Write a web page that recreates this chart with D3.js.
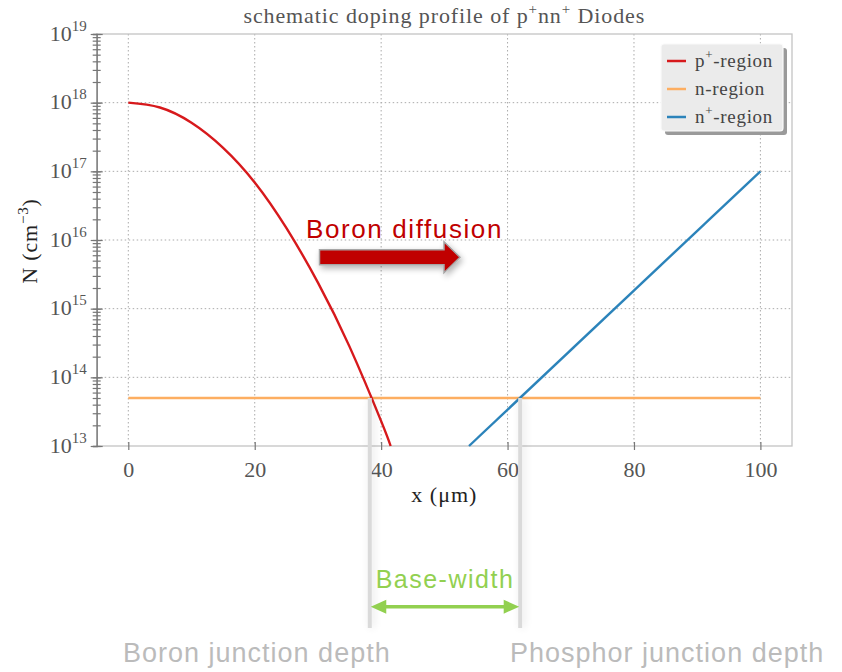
<!DOCTYPE html>
<html>
<head>
<meta charset="utf-8">
<script src="https://cdn.jsdelivr.net/npm/d3@7"></script>
<style>
  body { margin: 0; background: #fff; }
  svg { display: block; }
</style>
</head>
<body>
<svg id="chart" width="842" height="672"></svg>
<script>
// ----- data -----
var pRegionX = [0, 5, 10, 15, 20, 25, 30, 35, 40, 41.5];
var pRegionN = [1e18, 8.5e17, 5.1e17, 2.2e17, 6.9e16, 1.5e16, 2.4e15, 2.8e14, 2.3e13, 1e13];
var nRegionX = [0, 100];
var nRegionN = [5e13, 5e13];
var nPlusX = [53.9, 100];
var nPlusN = [1e13, 1e17];
var xTicks = [0, 20, 40, 60, 80, 100];
var yDecades = [13, 14, 15, 16, 17, 18, 19];
var legendNames = [["p", "+", "-region"], ["n", "", "-region"], ["n", "+", "-region"]];
var seriesColors = ["#d7191c", "#fdae61", "#2b83ba"];
var junctionX = [38.2, 62.0];

var serif = '"Liberation Serif", "DejaVu Serif", serif';
var sans = '"Liberation Sans", Arial, sans-serif';

var svg = d3.select('#chart');
var margin = {left: 96.7, right: 50, top: 34, bottom: 226};
var width = 842 - margin.left - margin.right;
var height = 672 - margin.top - margin.bottom;

var defs = svg.append('defs');
var shadow = defs.append('filter').attr('id', 'soft').attr('x', '-50%').attr('y', '-50%')
  .attr('width', '200%').attr('height', '200%');
shadow.append('feGaussianBlur').attr('in', 'SourceAlpha').attr('stdDeviation', 3).attr('result', 'b');
shadow.append('feOffset').attr('in', 'b').attr('dx', 2).attr('dy', 3).attr('result', 'o');
shadow.append('feComponentTransfer').attr('in', 'o').attr('result', 'o2')
  .append('feFuncA').attr('type', 'linear').attr('slope', 0.3);
var m = shadow.append('feMerge');
m.append('feMergeNode').attr('in', 'o2');
m.append('feMergeNode').attr('in', 'SourceGraphic');

var glow = defs.append('filter').attr('id', 'glow').attr('x', '-400%').attr('y', '-10%')
  .attr('width', '900%').attr('height', '120%');
glow.append('feGaussianBlur').attr('in', 'SourceAlpha').attr('stdDeviation', 4).attr('result', 'b');
glow.append('feOffset').attr('in', 'b').attr('dx', 2).attr('dy', 0).attr('result', 'bo');
glow.append('feComponentTransfer').attr('in', 'bo').attr('result', 'bs')
  .append('feFuncA').attr('type', 'linear').attr('slope', 0.12);
glow.append('feFlood').attr('flood-color', '#000');
glow.append('feComposite').attr('in2', 'bs').attr('operator', 'in').attr('result', 'g');
var gm = glow.append('feMerge');
gm.append('feMergeNode').attr('in', 'g');
gm.append('feMergeNode').attr('in', 'SourceGraphic');

var x = d3.scaleLinear().domain([-5, 105]).range([0, width]);
var y = d3.scaleLog().domain([1e13, 1e19]).range([height, 0]);

var g = svg.append('g').attr('transform', 'translate(' + margin.left + ',' + margin.top + ')');

// grid
g.selectAll('line.gx').data(xTicks).enter().append('line')
  .attr('class', 'gx')
  .attr('x1', function(d) { return x(d); }).attr('x2', function(d) { return x(d); })
  .attr('y1', 0).attr('y2', height)
  .attr('stroke', '#aaa').attr('stroke-width', 1).attr('stroke-dasharray', '1.5,2.5');
g.selectAll('line.gy').data(yDecades.slice(1, -1)).enter().append('line')
  .attr('class', 'gy')
  .attr('x1', 0).attr('x2', width)
  .attr('y1', function(d) { return y(Math.pow(10, d)); }).attr('y2', function(d) { return y(Math.pow(10, d)); })
  .attr('stroke', '#aaa').attr('stroke-width', 1).attr('stroke-dasharray', '1.5,2.5');

// frame
g.append('rect').attr('x', 0).attr('y', 0).attr('width', width).attr('height', height)
  .attr('fill', 'none').attr('stroke', '#c4c4c4').attr('stroke-width', 1.3);

// y axis with minor ticks
var yMinor = d3.axisLeft(y).tickValues(y.ticks()).tickFormat('').tickSize(4);
var yAx = g.append('g').call(yMinor);
yAx.select('.domain').attr('stroke', '#777').attr('stroke-width', 1.3);
yAx.selectAll('.tick line').attr('x1', 4).attr('x2', -4).attr('stroke', '#777').attr('stroke-width', 1.2);

var yMajor = d3.axisLeft(y).tickValues(yDecades.map(function(d) { return Math.pow(10, d); }))
  .tickFormat('').tickSize(6);
var yAx2 = g.append('g').call(yMajor);
yAx2.select('.domain').remove();
yAx2.selectAll('.tick line').attr('x1', 6).attr('x2', -6).attr('stroke', '#777').attr('stroke-width', 1.2);
yAx2.selectAll('.tick').each(function(d) {
  var t = d3.select(this).append('text')
    .attr('x', -10).attr('y', 6)
    .attr('text-anchor', 'end')
    .attr('fill', '#555')
    .style('font-family', serif)
    .style('font-size', '22px');
  t.append('tspan').text('10');
  t.append('tspan').attr('dy', -10).style('font-size', '15px').text(Math.round(Math.log10(d)));
});

// x axis
var xAx = g.append('g').attr('transform', 'translate(0,' + height + ')')
  .call(d3.axisBottom(x).tickValues(xTicks).tickSize(4).tickFormat(d3.format('d')));
xAx.select('.domain').remove();
xAx.selectAll('.tick line').attr('y1', -4).attr('y2', 4).attr('stroke', '#777').attr('stroke-width', 1.2);
xAx.selectAll('.tick text').attr('y', 11).attr('dy', '0.9em').attr('fill', '#555')
  .style('font-family', serif).style('font-size', '22px');

// series
var line = d3.line()
  .x(function(d) { return x(d[0]); })
  .y(function(d) { return y(d[1]); });
var pts = [d3.zip(pRegionX, pRegionN), d3.zip(nRegionX, nRegionN), d3.zip(nPlusX, nPlusN)];
g.append('path').datum(pts[1]).attr('d', line)
  .attr('fill', 'none').attr('stroke', seriesColors[1]).attr('stroke-width', 2.6);
g.append('path').datum(pts[0]).attr('d', line.curve(d3.curveNatural))
  .attr('fill', 'none').attr('stroke', seriesColors[0]).attr('stroke-width', 2.4);
g.append('path').datum(pts[2]).attr('d', line.curve(d3.curveLinear))
  .attr('fill', 'none').attr('stroke', seriesColors[2]).attr('stroke-width', 2.4);

// title and axis labels
svg.append('text').attr('x', margin.left + width / 2).attr('y', 23)
  .attr('text-anchor', 'middle').attr('fill', '#555')
  .style('font-family', serif).style('font-size', '22px').style('letter-spacing', '0.9px')
  .call(function(t) {
    t.append('tspan').text('schematic doping profile of p');
    t.append('tspan').attr('dy', -9).style('font-size', '15px').text('+');
    t.append('tspan').attr('dy', 9).text('nn');
    t.append('tspan').attr('dy', -9).style('font-size', '15px').text('+');
    t.append('tspan').attr('dy', 9).text(' Diodes');
  });

svg.append('text').attr('x', margin.left + x(50)).attr('y', 502)
  .attr('text-anchor', 'middle').attr('fill', '#222')
  .style('font-family', serif).style('font-size', '22px').style('letter-spacing', '1px')
  .text('x (\u03bcm)');

svg.append('text').attr('transform', 'translate(37,241) rotate(-90)')
  .attr('text-anchor', 'middle').attr('fill', '#222')
  .style('font-family', serif).style('font-size', '22px').style('letter-spacing', '0.8px')
  .call(function(t) {
    t.append('tspan').text('N (cm');
    t.append('tspan').attr('dy', -9).style('font-size', '15px').text('\u22123');
    t.append('tspan').attr('dy', 9).text(')');
  });

// legend
var lg = svg.append('g').attr('transform', 'translate(661,44)');
lg.append('rect').attr('x', 4).attr('y', 4).attr('width', 122).attr('height', 87).attr('rx', 3)
  .attr('fill', '#9a9a9a');
lg.append('rect').attr('x', 0).attr('y', 0).attr('width', 122).attr('height', 87).attr('rx', 3)
  .attr('fill', '#ebebeb').attr('stroke', '#fafafa').attr('stroke-width', 1.2);
var rows = lg.selectAll('g.row').data(legendNames).enter().append('g')
  .attr('class', 'row')
  .attr('transform', function(d, i) { return 'translate(0,' + (17 + i * 28) + ')'; });
rows.append('line').attr('x1', 6).attr('x2', 25).attr('y1', 0).attr('y2', 0)
  .attr('stroke', function(d, i) { return seriesColors[i]; }).attr('stroke-width', 2.5);
rows.append('text').attr('x', 34).attr('y', 6).attr('fill', '#444')
  .style('font-family', serif).style('font-size', '19px').style('letter-spacing', '0.7px')
  .each(function(d) {
    var t = d3.select(this);
    t.append('tspan').text(d[0]);
    if (d[1]) {
      t.append('tspan').attr('dy', -8).style('font-size', '13px').text(d[1]);
      t.append('tspan').attr('dy', 8).text(d[2]);
    } else {
      t.append('tspan').text(d[2]);
    }
  });

// annotations: boron diffusion arrow
svg.append('text').attr('x', 306).attr('y', 238).attr('fill', '#c00000')
  .style('font-family', sans).style('font-size', '26px').style('letter-spacing', '1.6px')
  .text('Boron diffusion');
var ax0 = 319.5, ax1 = 444, tip = 460, ay = 257.3;
svg.append('path')
  .attr('d', 'M' + ax0 + ',' + (ay - 7.5) + 'L' + ax1 + ',' + (ay - 7.5) + 'L' + ax1 + ',' + (ay - 15.5) +
    'L' + tip + ',' + ay + 'L' + ax1 + ',' + (ay + 15.5) + 'L' + ax1 + ',' + (ay + 7.5) +
    'L' + ax0 + ',' + (ay + 7.5) + 'Z')
  .attr('fill', '#c00000').attr('stroke', '#a6a6a6').attr('stroke-width', 1.5)
  .attr('filter', 'url(#soft)');

// junction markers
var jx = junctionX.map(function(d) { return margin.left + x(d); });
var jTop = margin.top + y(5e13);
svg.selectAll('rect.junction').data(jx).enter().append('rect')
  .attr('class', 'junction')
  .attr('x', function(d) { return d - 2; }).attr('width', 4)
  .attr('y', jTop).attr('height', 628 - jTop)
  .attr('fill', '#dadada')
  .attr('filter', 'url(#glow)');

svg.append('text').attr('x', (jx[0] + jx[1]) / 2).attr('y', 588).attr('text-anchor', 'middle')
  .attr('fill', '#92d050')
  .style('font-family', sans).style('font-size', '25px').style('letter-spacing', '1.5px')
  .text('Base-width');

var by = 606.7, ah = 15.5, aw = 7;
var l0 = jx[0] + 1, l1 = jx[1] - 1;
svg.append('line').attr('x1', l0 + ah - 1).attr('x2', l1 - ah + 1).attr('y1', by).attr('y2', by)
  .attr('stroke', '#92d050').attr('stroke-width', 3.5);
svg.append('path')
  .attr('d', 'M' + l0 + ',' + by + 'L' + (l0 + ah) + ',' + (by - aw) + 'L' + (l0 + ah) + ',' + (by + aw) + 'Z' +
    'M' + l1 + ',' + by + 'L' + (l1 - ah) + ',' + (by - aw) + 'L' + (l1 - ah) + ',' + (by + aw) + 'Z')
  .attr('fill', '#92d050');

svg.append('text').attr('x', 123).attr('y', 662).attr('fill', '#bbbbbb')
  .style('font-family', sans).style('font-size', '27px').style('letter-spacing', '1px')
  .text('Boron junction depth');
svg.append('text').attr('x', 510).attr('y', 662).attr('fill', '#bbbbbb')
  .style('font-family', sans).style('font-size', '27px').style('letter-spacing', '1px')
  .text('Phosphor junction depth');
</script>
</body>
</html>
